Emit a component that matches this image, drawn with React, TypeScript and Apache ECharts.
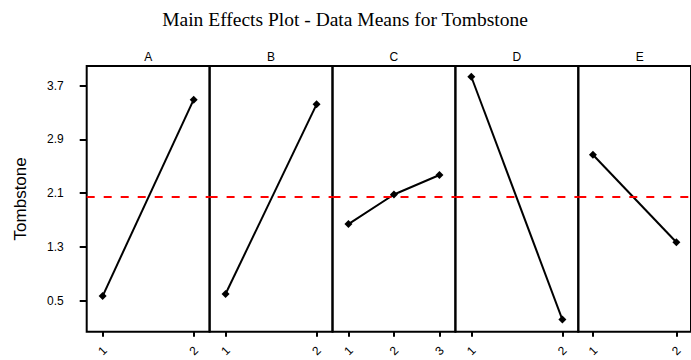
import React, { useEffect, useRef } from "react";
import * as echarts from "echarts";

const chartTitle = "Main Effects Plot - Data Means for Tombstone";
const yAxisName = "Tombstone";
const factors = ["A", "B", "C", "D", "E"];
const levelsA = [1, 2];
const levelsB = [1, 2];
const levelsC = [1, 2, 3];
const levelsD = [1, 2];
const levelsE = [1, 2];
const meansA = [0.57, 3.49];
const meansB = [0.6, 3.42];
const meansC = [1.64, 2.08, 2.37];
const meansD = [3.83, 0.22];
const meansE = [2.67, 1.37];
const grandMean = 2.036;
const yTicks = [0.5, 1.3, 2.1, 2.9, 3.7];

const levelsList = [levelsA, levelsB, levelsC, levelsD, levelsE];
const meansList = [meansA, meansB, meansC, meansD, meansE];

export default function App() {
  const ref = useRef<HTMLDivElement>(null);
  useEffect(() => {
    if (!ref.current) return;
    const chart = echarts.init(ref.current, null, { renderer: "svg" });
    const left0 = 86.7;
    const pw = 122.9;
    const top = 66;
    const height = 265.7;
    const font = "Liberation Sans, Arial, sans-serif";

    const grids = factors.map((_, i) => ({
      left: left0 + i * pw,
      top,
      width: pw,
      height,
      show: true,
      borderColor: "#000",
      borderWidth: 2,
      backgroundColor: "transparent",
      containLabel: false,
    }));

    const xAxes = factors.map((_, i) => {
      const lv = levelsList[i];
      const n = lv.length;
      const m = n === 2 ? 0.175 : 0.35;
      return {
        type: "value",
        gridIndex: i,
        min: lv[0] - m,
        max: lv[n - 1] + m,
        axisLine: { show: false },
        splitLine: { show: false },
        axisTick: {
          show: true,
          inside: false,
          length: 5,
          customValues: lv,
          lineStyle: { color: "#000", width: 2 },
        },
        axisLabel: {
          show: true,
          customValues: lv,
          rotate: 45,
          align: "center",
          verticalAlign: "middle",
          margin: 19,
          fontSize: 12,
          color: "#000",
          fontFamily: font,
        },
      };
    });

    const yAxes = factors.map((_, i) => ({
      type: "value",
      gridIndex: i,
      min: 0.04,
      max: 3.99,
      name: i === 0 ? yAxisName : "",
      nameLocation: "middle",
      nameGap: 58,
      nameTextStyle: { fontSize: 17, color: "#000", fontFamily: font },
      axisLine: { show: false },
      splitLine: { show: false },
      axisTick: {
        show: i === 0,
        length: 7,
        customValues: yTicks,
        lineStyle: { color: "#000", width: 2 },
      },
      axisLabel: {
        show: i === 0,
        customValues: yTicks,
        margin: 23,
        fontSize: 12,
        color: "#000",
        fontFamily: font,
        formatter: (v: number) => v.toFixed(1),
      },
    }));

    const series = factors.map((f, i) => ({
      name: f,
      type: "line",
      xAxisIndex: i,
      yAxisIndex: i,
      data: levelsList[i].map((lv, j) => [lv, meansList[i][j]]),
      symbol: "diamond",
      symbolSize: 8,
      lineStyle: { color: "#000", width: 2 },
      itemStyle: { color: "#000" },
      markLine: {
        silent: true,
        symbol: ["none", "none"],
        label: { show: false },
        lineStyle: { color: "#ff0000", width: 2, type: [8, 9] },
        data: [{ yAxis: grandMean }],
      },
      z: 3,
    }));

    const graphics: any[] = [
      {
        type: "text",
        x: 345,
        y: 19,
        style: {
          text: chartTitle,
          fontFamily: "Liberation Serif, Times New Roman, serif",
          fontSize: 19.5,
          fill: "#000",
          align: "center",
          verticalAlign: "middle",
        },
      },
      ...factors.map((f, i) => ({
        type: "text",
        x: left0 + i * pw + pw / 2,
        y: 57,
        style: {
          text: f,
          fontFamily: font,
          fontSize: 12,
          fill: "#000",
          align: "center",
          verticalAlign: "middle",
        },
      })),
    ];

    chart.setOption({
      animation: false,
      backgroundColor: "#fff",
      grid: grids,
      xAxis: xAxes,
      yAxis: yAxes,
      series,
      graphic: graphics,
    } as any);
    return () => chart.dispose();
  }, []);
  return (
    <div
      ref={ref}
      style={{ position: "absolute", left: 0, top: 0, width: 691, height: 360 }}
    />
  );
}
